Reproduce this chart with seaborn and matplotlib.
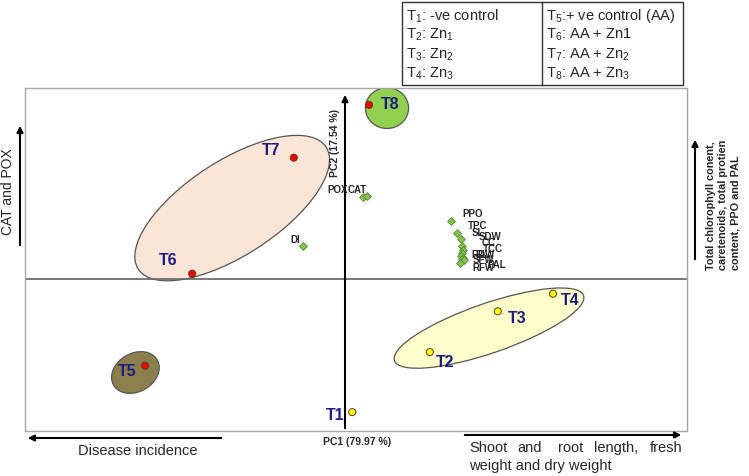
import matplotlib.pyplot as plt
from matplotlib.patches import Ellipse, Rectangle
import pandas as pd
import seaborn as sns

# PCA scores of the eight treatments
treatments = ['T1', 'T2', 'T3', 'T4', 'T5', 'T6', 'T7', 'T8']
pc1_scores = [0.09, 1.06, 1.91, 2.60, -2.50, -1.91, -0.64, 0.30]
pc2_scores = [-1.67, -0.92, -0.41, -0.19, -1.09, 0.06, 1.51, 2.17]
treat_group = ['Zn', 'Zn', 'Zn', 'Zn', 'AA', 'AA', 'AA', 'AA']

# PCA loadings of the measured variables
variables = ['DI', 'POX', 'CAT', 'PPO', 'TPC', 'SL', 'SDW', 'CC', 'TCC', 'RDW', 'RL', 'SFW', 'PAL', 'RFW']
pc1_loadings = [-0.53, 0.23, 0.28, 1.33, 1.40, 1.45, 1.46, 1.48, 1.46, 1.45, 1.48, 1.46, 1.49, 1.44]
pc2_loadings = [0.41, 1.02, 1.03, 0.72, 0.57, 0.49, 0.41, 0.36, 0.32, 0.28, 0.26, 0.24, 0.23, 0.19]

# treatment descriptions for the legend boxes
legend_left = [r'T$_1$: -ve control', r'T$_2$: Zn$_1$', r'T$_3$: Zn$_2$', r'T$_4$: Zn$_3$']
legend_right = [r'T$_5$:+ ve control (AA)', r'T$_6$: AA + Zn1', r'T$_7$: AA + Zn$_2$', r'T$_8$: AA + Zn$_3$']

df_scores = pd.DataFrame({'PC1': pc1_scores, 'PC2': pc2_scores, 'group': treat_group}, index=treatments)
df_load = pd.DataFrame({'PC1': pc1_loadings, 'PC2': pc2_loadings}, index=variables)

# label offsets in pixels (dx, dy, ha)
score_offsets = {'T1': (-17, -3, 'center'), 'T2': (15, -10, 'center'), 'T3': (19, -7, 'center'),
                 'T4': (17, -7, 'center'), 'T5': (-18, -6, 'center'), 'T6': (-24, 13, 'center'),
                 'T7': (-23, 7, 'center'), 'T8': (21, 0, 'center')}
load_offsets = {'DI': (-3, 6, 'right'), 'POX': (-16, 7, 'right'), 'CAT': (-20, 6, 'left'),
                'PPO': (11, 7, 'left'), 'TPC': (11, 7, 'left'), 'SL': (11, 6, 'left'),
                'SDW': (17, 9, 'left'), 'CC': (18, 7, 'left'), 'TCC': (21, 4, 'left'),
                'RDW': (10, 1, 'left'), 'RL': (12, 3, 'left'), 'SFW': (11, -1, 'left'),
                'PAL': (23, -5, 'left'), 'RFW': (12, -5, 'left')}

sns.set_style('white')
plt.rcParams['font.family'] = ['Liberation Sans', 'DejaVu Sans']
plt.rcParams['mathtext.fontset'] = 'custom'
plt.rcParams['mathtext.rm'] = 'Liberation Sans'
plt.rcParams['mathtext.it'] = 'Liberation Sans:italic'
plt.rcParams['mathtext.bf'] = 'Liberation Sans:bold'

W, H = 749, 476
fig = plt.figure(figsize=(W / 100, H / 100), dpi=100)
ax = fig.add_axes([25 / W, 1 - 431 / H, 662 / W, 343 / H])
ax.set_xlim(-4.0, 4.275)
ax.set_ylim(-1.906, 2.381)
ax.set_xticks([])
ax.set_yticks([])
for sp in ax.spines.values():
    sp.set_color('#a6a6a6')
    sp.set_linewidth(1.0)

# group ellipses
ellipses = [((-1.41, 0.88), 2.80, 1.18, 33, '#fce4d6'),
            ((-2.62, -1.175), 0.63, 0.48, 30, '#8b7f4e'),
            ((0.525, 2.13), 0.54, 0.51, 0, '#92d050'),
            ((1.80, -0.62), 2.50, 0.62, 19, '#ffffcc')]
for (cx, cy), w, h, ang, fc in ellipses:
    ax.add_patch(Ellipse((cx, cy), w, h, angle=ang, facecolor=fc, edgecolor='#555555', lw=0.9, zorder=1))

# axes through origin
ax.axhline(0, color='#6e6e6e', lw=1.3, zorder=2)
ax.annotate('', xy=(0, 2.33), xytext=(0, -1.906),
            arrowprops=dict(arrowstyle='-|>', color='black', lw=1.5, mutation_scale=9), zorder=2)
ax.text(-0.06, 1.69, 'PC2 (17.54 %)', rotation=90, ha='right', va='center',
        fontsize=7.5, fontweight='bold')

# loadings
sns.scatterplot(data=df_load, x='PC1', y='PC2', marker='D', color='#8cc152', edgecolor='#4f8a2b',
                s=16, linewidth=0.6, ax=ax, zorder=3, legend=False)
for v in variables:
    dx, dy, ha = load_offsets[v]
    ax.annotate(v, (df_load.loc[v, 'PC1'], df_load.loc[v, 'PC2']), xytext=(dx, dy),
                textcoords='offset pixels', ha=ha, va='center', fontsize=7, fontweight='bold')

# scores
sns.scatterplot(data=df_scores, x='PC1', y='PC2', hue='group',
                palette={'Zn': '#ffff00', 'AA': '#ff0000'}, edgecolor='#5a3a1a',
                s=26, linewidth=0.7, ax=ax, zorder=4, legend=False)
for t in treatments:
    dx, dy, ha = score_offsets[t]
    ax.annotate(t, (df_scores.loc[t, 'PC1'], df_scores.loc[t, 'PC2']), xytext=(dx, dy),
                textcoords='offset pixels', ha=ha, va='center', fontsize=11.5,
                fontweight='bold', color='#1c1c80')
ax.set_xlabel('')
ax.set_ylabel('')

# legend boxes at the top
for x0, lines in ((402, legend_left), (542, legend_right)):
    fig.add_artist(Rectangle((x0 / W, 1 - 85 / H), 141 / W, 83 / H, transform=fig.transFigure,
                             facecolor='white', edgecolor='#333333', lw=1.0))
    for i, s in enumerate(lines):
        fig.text((x0 + 4) / W, 1 - (16 + 19.3 * i) / H, s, ha='left', va='center', fontsize=10.5)


def fig_arrow(x0, y0, x1, y1):
    ax.annotate('', xy=(x1 / W, 1 - y1 / H), xytext=(x0 / W, 1 - y0 / H),
                xycoords='figure fraction', textcoords='figure fraction',
                arrowprops=dict(arrowstyle='-|>', color='black', lw=1.5, mutation_scale=9),
                annotation_clip=False)


# side annotations
fig_arrow(20, 248, 20, 123)
fig.text(8 / W, 1 - 192 / H, 'CAT and POX', rotation=90, ha='center', va='center', fontsize=10)

fig_arrow(695, 262, 695, 137)
fig.text(723 / W, 1 - 270 / H, 'Total chlorophyll conent,\ncaretenoids, total protien\ncontent, PPO and PAL',
         rotation=90, ha='center', va='bottom', multialignment='left', fontsize=7.8,
         fontweight='bold', linespacing=1.25)

fig_arrow(224, 438, 25, 438)
fig.text(138 / W, 1 - 451 / H, 'Disease incidence', ha='center', va='center', fontsize=10.5)
fig.text(357 / W, 1 - 442 / H, 'PC1 (79.97 %)', ha='center', va='center', fontsize=7.5, fontweight='bold')

fig_arrow(462, 435, 684, 435)
for word, xw in (('Shoot', 469), ('and', 517), ('root', 558), ('length,', 594)):
    fig.text(xw / W, 1 - 448 / H, word, ha='left', va='center', fontsize=10.5)
fig.text(682 / W, 1 - 448 / H, 'fresh', ha='right', va='center', fontsize=10.5)
fig.text(469 / W, 1 - 466 / H, 'weight and dry weight', ha='left', va='center', fontsize=10.5)

plt.savefig('out.png', dpi=100)
